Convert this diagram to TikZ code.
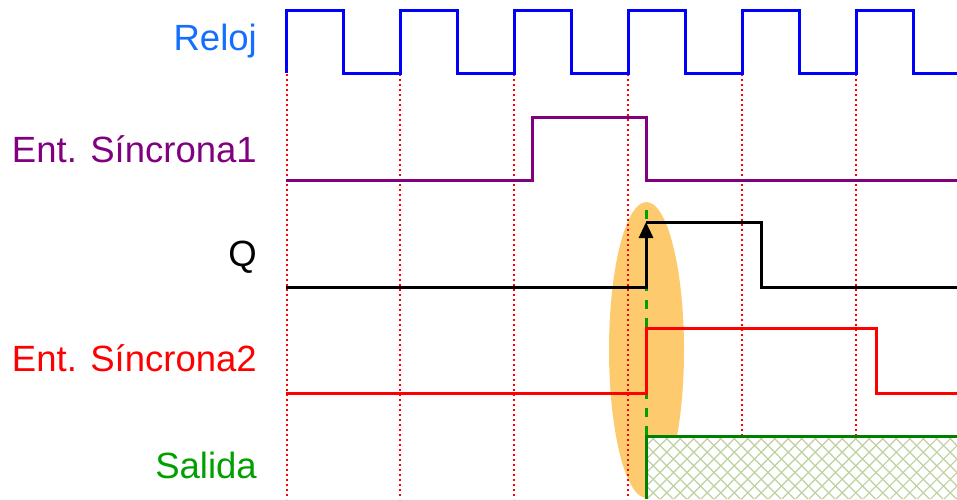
\documentclass[tikz,border=0pt]{standalone}
\usepackage{fontspec}
\setmainfont{Liberation Sans}
\usetikzlibrary{arrows.meta}
\definecolor{clk}{RGB}{0,0,255}
\definecolor{clktxt}{RGB}{20,110,255}
\definecolor{purp}{RGB}{128,0,128}
\definecolor{grn}{RGB}{0,128,0}
\definecolor{grntxt}{RGB}{0,160,0}
\definecolor{hatch}{RGB}{190,210,160}
\definecolor{orng}{RGB}{253,203,110}
\tikzset{
  lbl/.style={anchor=base east, inner sep=0pt, font=\fontsize{36.5}{40}\selectfont},
  sig/.style={line width=3pt, line join=miter},
  grid/.style={red, line width=2pt, dash pattern=on 2pt off 3pt},
}
\begin{document}
\begin{tikzpicture}[x=1pt,y=-1pt]
\useasboundingbox (0,0) rectangle (957,499);
% highlight ellipse
\fill[orng] (646.5,350) ellipse [x radius=37.5, y radius=148];
% grid lines
\foreach \x in {287,400,514,628,742,856}
  \draw[grid] (\x,74) -- (\x,499);
% Salida hatch
\fill[white] (646,436) rectangle (957,499);
\begin{scope}
  \clip (646,436) rectangle (957,499);
  \foreach \c in {0,13.5,...,420}
  {
    \draw[hatch, line width=1.1pt] (646+\c-80,499) -- (646+\c,419);
    \draw[hatch, line width=1.1pt] (646+\c-80,419) -- (646+\c,499);
  }
\end{scope}
\draw[grn, line width=3pt] (646,499) -- (646,436) -- (960,436);
% green dashed
\draw[grntxt, line width=3pt, dash pattern=on 9pt off 9pt] (646,210) -- (646,436);
% clock
\draw[sig, clk] (286,73) -- (286,10) -- (343,10) -- (343,73) -- (400,73) -- (400,10) -- (457,10) -- (457,73)
  -- (514,73) -- (514,10) -- (571,10) -- (571,73) -- (628,73) -- (628,10) -- (685,10) -- (685,73)
  -- (742,73) -- (742,10) -- (799,10) -- (799,73) -- (856,73) -- (856,10) -- (913,10) -- (913,73) -- (960,73);
% Ent. Sincrona1
\draw[sig, purp] (286,180) -- (532,180) -- (532,117) -- (646,117) -- (646,180) -- (960,180);
% Q
\draw[sig, black] (286,287) -- (646,287);
\draw[line width=3pt, black, -{Triangle[length=16pt,width=14pt]}] (646,288.5) -- (646,222);
\draw[sig, black] (646,222) -- (761,222) -- (761,287) -- (960,287);
% Ent. Sincrona2
\draw[sig, red] (286,393) -- (646,393) -- (646,328) -- (876,328) -- (876,393) -- (960,393);
% labels
\node[lbl, clktxt] (reloj) at (257,50) {Reloj};
\node[lbl, purp] (e1) at (257,162) {Ent. Síncrona1};
\node[lbl, black] (q) at (257,266) {Q};
\node[lbl, red] (e2) at (257,371) {Ent. Síncrona2};
\node[lbl, grntxt] (sal) at (257,478) {Salida};
\end{tikzpicture}
\end{document}
